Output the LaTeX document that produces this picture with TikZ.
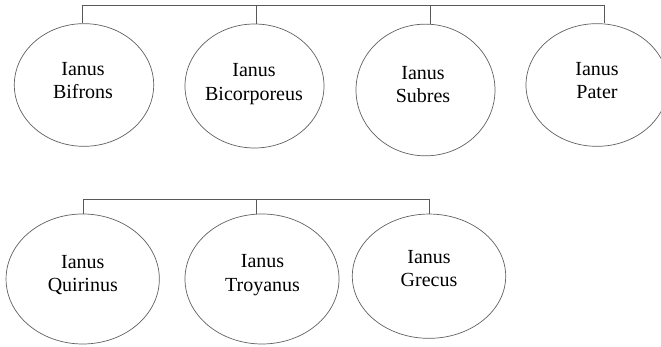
\documentclass[tikz,border=0pt]{standalone}
\usepackage{fontspec}
\setmainfont{Liberation Serif}
\usetikzlibrary{shapes}

\begin{document}
\begin{tikzpicture}[x=1pt, y=1pt, line width=0.7pt,
  god/.style={ellipse, draw=gray!75!black, inner sep=0pt},
  lbl/.style={align=center, font=\fontsize{20}{23.5}\selectfont},
  bus/.style={draw=gray!70!black}]

\useasboundingbox (0,0) rectangle (661,347);

% top row
\node[god, minimum width=139.4, minimum height=122.7] (Bif) at (84, 262) {};
\node[god, minimum width=139, minimum height=124] (Bic) at (254.5, 261) {};
\node[god, minimum width=139, minimum height=131.7] (Sub) at (425.5, 257) {};
\node[god, minimum width=142, minimum height=122.7] (Pat) at (597, 262) {};

\node[lbl] (BifT) at (83, 266.6) {Ianus\\Bifrons};
\node[lbl] (BicT) at (254, 262.7) {Ianus\\Bicorporeus};
\node[lbl] (SubT) at (423, 262.3) {Ianus\\Subres};
\node[lbl] (PatT) at (597, 266.6) {Ianus\\Pater};

% bottom row
\node[god, minimum width=153.3, minimum height=130] (Qui) at (82.7, 68) {};
\node[god, minimum width=154, minimum height=130] (Tro) at (262, 68) {};
\node[god, minimum width=153.4, minimum height=124.3] (Gre) at (429, 70.8) {};

\node[lbl] (QuiT) at (82.8, 72.1) {Ianus\\Quirinus};
\node[lbl] (TroT) at (262.5, 71.7) {Ianus\\Troyanus};
\node[lbl] (GreT) at (429, 78.3) {Ianus\\Grecus};

% bus lines
\coordinate (t1) at (82.7, 342);
\coordinate (t2) at (256.7, 342);
\coordinate (t3) at (430, 342);
\coordinate (t4) at (604.3, 342);
\draw[bus] (t1) -- (t4);
\draw[bus] (t1) -- (t1 |- Bif.north);
\draw[bus] (t2) -- (t2 |- Bic.north);
\draw[bus] (t3) -- (t3 |- Sub.north);
\draw[bus] (t4) -- (t4 |- Pat.north);

\coordinate (b1) at (83.3, 147.7);
\coordinate (b2) at (256.7, 147.7);
\coordinate (b3) at (429.3, 147.7);
\draw[bus] (b1) -- (b3);
\draw[bus] (b1) -- (b1 |- Qui.north);
\draw[bus] (b2) -- (b2 |- Tro.north);
\draw[bus] (b3) -- (b3 |- Gre.north);

\end{tikzpicture}
\end{document}
